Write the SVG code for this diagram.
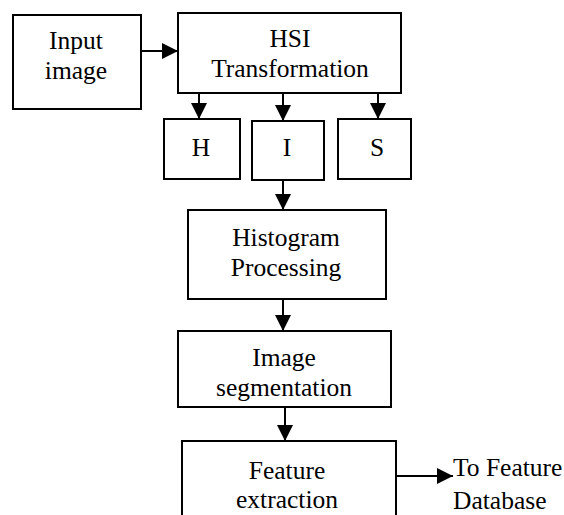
<svg xmlns="http://www.w3.org/2000/svg" width="564" height="515" viewBox="0 0 564 515">
<style>
text{font-family:'Liberation Serif','Tinos','Times New Roman','DejaVu Serif',serif;font-size:25.5px;fill:#000}
.t{text-anchor:middle}
.box{fill:#fff;stroke:#000;stroke-width:2}
.c{stroke:#000;stroke-width:2;fill:none;marker-end:url(#ah)}
</style>
<defs>
<marker id="ah" markerUnits="userSpaceOnUse" viewBox="0 -8 16 16" markerWidth="16" markerHeight="16" refX="16" refY="0" orient="auto">
<path d="M0,-8 L16,0 L0,8 z" fill="#000"/>
</marker>
</defs>
<rect width="564" height="515" fill="#fff"/>
<g id="connectors">
<line class="c" x1="141" y1="51" x2="178" y2="51"/>
<line class="c" x1="199" y1="93" x2="199" y2="119"/>
<line class="c" x1="283" y1="93" x2="283" y2="121"/>
<line class="c" x1="378" y1="93" x2="378" y2="119"/>
<line class="c" x1="283" y1="180" x2="283" y2="210"/>
<line class="c" x1="283" y1="299" x2="283" y2="331"/>
<line class="c" x1="285" y1="407" x2="285" y2="441"/>
<line class="c" x1="396" y1="476" x2="453" y2="476"/>
</g>
<g id="input">
<rect class="box" x="13" y="15" width="128" height="94"/>
<text class="t" x="76" y="49">Input</text>
<text class="t" x="76" y="79">image</text>
</g>
<g id="hsi">
<rect class="box" x="178" y="13" width="223" height="80"/>
<text class="t" x="290" y="47">HSI</text>
<text class="t" x="290" y="77">Transformation</text>
</g>
<g id="h">
<rect class="box" x="164" y="119" width="76" height="60"/>
<text class="t" x="201" y="156">H</text>
</g>
<g id="i">
<rect class="box" x="252" y="121" width="72" height="59"/>
<text class="t" x="287" y="156">I</text>
</g>
<g id="s">
<rect class="box" x="338" y="119" width="73" height="60"/>
<text class="t" x="377" y="156">S</text>
</g>
<g id="histogram">
<rect class="box" x="188" y="210" width="198" height="89"/>
<text class="t" x="286" y="246">Histogram</text>
<text class="t" x="286" y="276">Processing</text>
</g>
<g id="segmentation">
<rect class="box" x="178" y="331" width="213" height="76"/>
<text class="t" x="284" y="366">Image</text>
<text class="t" x="284" y="396">segmentation</text>
</g>
<g id="feature">
<rect class="box" x="182" y="441" width="214" height="90"/>
<text class="t" x="287" y="479">Feature</text>
<text class="t" x="287" y="508">extraction</text>
</g>
<g id="todb">
<text x="453" y="476">To Feature</text>
<text x="453" y="509">Database</text>
</g>
</svg>
